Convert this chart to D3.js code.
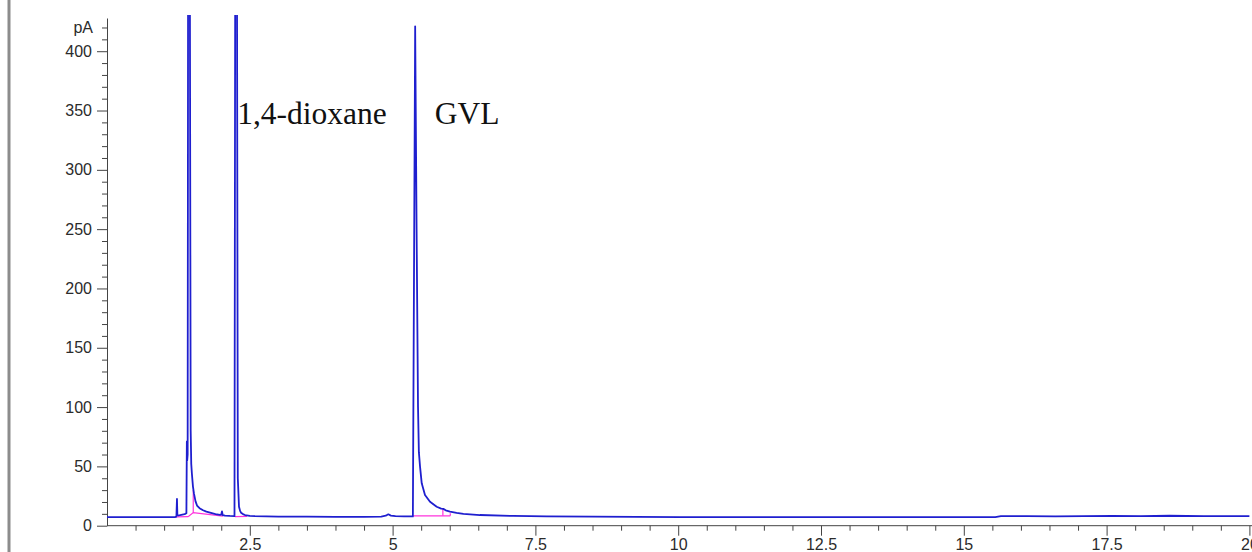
<!DOCTYPE html>
<html>
<head>
<meta charset="utf-8">
<script src="https://cdn.jsdelivr.net/npm/d3@7"></script>
<style>
  html, body { margin: 0; padding: 0; background: #fff; }
  svg { display: block; }
  .axis text { font-family: "Liberation Sans", Arial, sans-serif; font-size: 16px; fill: #2b2b2b; }
  .axis path, .axis line { stroke: #444; stroke-width: 1; }
  .peak-label { font-family: "Liberation Serif", "Times New Roman", serif; font-size: 31.5px; fill: #111; }
</style>
</head>
<body>
<svg id="chart" width="1252" height="552"></svg>
<script>
// ---- data (retention time in min, signal in pA) ----
const traceTime = [
  0.00, 0.50, 1.00, 1.19, 1.215, 1.225, 1.232, 1.25, 1.30, 1.36, 1.39,
  1.398, 1.404, 1.412, 1.42, 1.45, 1.465, 1.475, 1.486, 1.505, 1.523, 1.55,
  1.576, 1.62, 1.681, 1.74, 1.803, 1.90, 1.978, 2.00, 2.013, 2.025, 2.066,
  2.15, 2.232, 2.245, 2.275, 2.29, 2.311, 2.33, 2.346, 2.38, 2.416, 2.50,
  2.59, 3.00, 3.50, 4.00, 4.50, 4.80, 4.88, 4.925, 4.97, 5.05, 5.20, 5.355,
  5.395, 5.42, 5.445, 5.46, 5.48, 5.51, 5.567, 5.655, 5.772, 5.85, 5.888,
  5.93, 6.005, 6.12, 6.24, 6.53, 7.11, 7.70, 8.50, 10.03, 12.50, 15.00,
  15.55, 15.65, 16.10, 16.60, 17.10, 17.60, 18.10, 18.60, 19.20, 20.00
];
const traceSignal = [
  7.2, 7.2, 7.2, 7.3, 7.6, 22.5, 9.0, 8.6, 9.2, 9.8, 10.5,
  71, 55, 60, 480, 480, 80, 52, 44, 33, 27, 20.5,
  17, 14.8, 13, 11.8, 11, 9.8, 9.2, 9.4, 12, 9.0, 8.5,
  8.2, 8.0, 480, 480, 40, 16, 12.5, 11, 9.8, 9.0, 8.3,
  8.0, 7.7, 7.6, 7.4, 7.5, 7.7, 8.4, 9.6, 8.5, 8.0, 7.8, 7.8,
  421, 250, 100, 62, 50, 35.7, 25.9, 20.2, 16, 14.4, 14.2,
  13, 11.8, 10.8, 9.9, 9.0, 8.2, 7.9, 7.6, 7.3, 7.3, 7.2,
  7.2, 8.0, 8.1, 7.8, 8.0, 8.3, 8.0, 8.4, 8.1, 8.0
];
// integration baselines / drop lines (time, pA)
const integrationSegments = [
  [[1.20, 7.4], [1.42, 7.6]],
  [[1.42, 7.6], [1.51, 11], [2.03, 8.0]],
  [[1.51, 11], [1.51, 30]],
  [[2.24, 7.6], [2.45, 7.8]],
  [[5.36, 8.3], [6.01, 8.3]],
  [[5.88, 8.3], [5.88, 15]],
  [[6.01, 8.3], [6.01, 10.5]]
];
const yMajorTicks = [0, 50, 100, 150, 200, 250, 300, 350, 400];
const yMinorTicks = [10, 20, 30, 40, 60, 70, 80, 90, 110, 120, 130, 140, 160, 170, 180, 190,
  210, 220, 230, 240, 260, 270, 280, 290, 310, 320, 330, 340, 360, 370, 380, 390, 410, 420];
const yUnitLabel = "pA";
const yUnitValue = 420;
const xMajorTicks = [2.5, 5, 7.5, 10, 12.5, 15, 17.5, 20];
const xTickLabels = ["2.5", "5", "7.5", "10", "12.5", "15", "17.5", "20"];
const xMinorTicks = [0.5, 1, 1.5, 2, 3, 3.5, 4, 4.5, 5.5, 6, 6.5, 7, 8, 8.5, 9, 9.5,
  10.5, 11, 11.5, 12, 13, 13.5, 14, 14.5, 15.5, 16, 16.5, 17, 18, 18.5, 19, 19.5];
const peakLabels = [
  { text: "1,4-dioxane", t: 2.28, v: 339 },
  { text: "GVL", t: 5.74, v: 339 }
];

// ---- drawing ----
const svg = d3.select("#chart");
const W = 1252, H = 552;
const x = d3.scaleLinear().domain([0, 20]).range([107, 1249.4]);
const y = d3.scaleLinear().domain([0, 428]).range([525.7, 18]);

// left gray frame bar
svg.append("line")
  .attr("x1", 9).attr("x2", 9).attr("y1", 0).attr("y2", H)
  .attr("stroke", "#8c8c8c").attr("stroke-width", 3);

svg.append("clipPath").attr("id", "plotclip")
  .append("rect").attr("x", x(0)).attr("y", 15).attr("width", W - x(0)).attr("height", y(0) - 15 + 2);

// axes
const gy = svg.append("g").attr("class", "axis").attr("transform", `translate(${x(0)},0)`);
gy.call(d3.axisLeft(y).tickValues(yMajorTicks).tickSize(10).tickSizeOuter(0).tickPadding(5).tickFormat(d3.format("d")));
const gyMinor = svg.append("g").attr("class", "axis").attr("transform", `translate(${x(0)},0)`);
gyMinor.call(d3.axisLeft(y).tickValues(yMinorTicks).tickSize(5).tickSizeOuter(0).tickFormat(""));
gyMinor.select(".domain").remove();
svg.append("text").attr("class", "axis")
  .attr("x", x(0) - 14).attr("y", y(yUnitValue)).attr("dy", "0.32em")
  .attr("text-anchor", "end")
  .style("font-family", "'Liberation Sans', Arial, sans-serif").style("font-size", "16px").style("fill", "#2b2b2b")
  .text(yUnitLabel);

const gx = svg.append("g").attr("class", "axis").attr("transform", `translate(0,${y(0)})`);
gx.call(d3.axisBottom(x).tickValues(xMajorTicks).tickSize(10).tickSizeOuter(0)
  .tickFormat((d, i) => xTickLabels[i]));
gx.select(".domain").remove();
const gxMinor = svg.append("g").attr("class", "axis").attr("transform", `translate(0,${y(0)})`);
gxMinor.call(d3.axisBottom(x).tickValues(xMinorTicks).tickSize(5).tickSizeOuter(0).tickFormat(""));
gxMinor.select(".domain").remove();
svg.append("line")
  .attr("x1", x(0)).attr("x2", W).attr("y1", y(0)).attr("y2", y(0))
  .attr("stroke", "#444").attr("stroke-width", 1);

// plot
const plot = svg.append("g").attr("clip-path", "url(#plotclip)");
const traceData = traceTime.map((t, i) => [t, traceSignal[i]]);
const line = d3.line().x(d => x(d[0])).y(d => y(d[1]));

plot.selectAll("path.intg").data(integrationSegments).join("path")
  .attr("class", "intg")
  .attr("d", line)
  .attr("fill", "none").attr("stroke", "#ff33dd").attr("stroke-width", 1.2);

plot.append("path")
  .datum(traceData)
  .attr("d", line)
  .attr("fill", "none")
  .attr("stroke", "#1f1fcf")
  .attr("stroke-width", 1.8)
  .attr("stroke-linejoin", "round");

// peak labels
svg.selectAll("text.peak-label").data(peakLabels).join("text")
  .attr("class", "peak-label")
  .attr("x", d => x(d.t))
  .attr("y", d => y(d.v))
  .attr("text-anchor", d => "start")
  .text(d => d.text);
</script>
</body>
</html>
